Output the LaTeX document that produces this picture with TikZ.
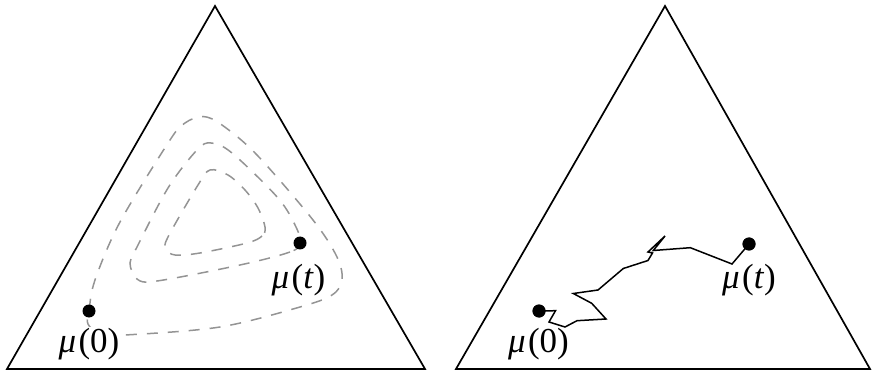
\documentclass[tikz,border=0pt]{standalone}
\usepackage{fontspec}
\setmainfont{Liberation Serif}
\begin{document}
\begin{tikzpicture}[x=0.5pt,y=-0.5pt,
  simplex/.style={draw=black,line width=0.85pt,line join=miter},
  orbit/.style={draw=black!42,line width=0.75pt,dash pattern=on 5.5pt off 5pt},
  walk/.style={draw=black,line width=0.75pt},
  dot/.style={circle,fill=black,inner sep=0pt,minimum size=6.5pt},
  lbl/.style={font=\fontsize{17.5}{20}\selectfont,inner sep=0.5pt}]
\useasboundingbox (0,0) rectangle (876,373);
% left simplex
\coordinate (LA) at (7,369);
\coordinate (LB) at (425,369);
\coordinate (LC) at (215,6);
\draw[simplex] (LA) -- (LB) -- (LC) -- cycle;
% outer orbit
\draw[orbit] plot[smooth cycle,tension=0.55] coordinates {
 (89,311) (88,324) (100,334) (125,335) (220,327) (300,307) (332,295) (342,280)
 (337,257) (313,220) (257,155) (222,125) (203,116.5) (185,123) (170,140)
 (120,222) (95,280)};
% middle orbit
\draw[orbit] plot[smooth cycle,tension=0.55] coordinates {
 (300,243) (290,252) (240,265) (157,281) (137,279) (130,263) (137,247)
 (168,188) (197,150) (211,143) (232,153) (278,198) (296,227)};
% inner orbit
\draw[orbit] plot[smooth cycle,tension=0.55] coordinates {
 (265,227) (262,236) (247,243) (200,253) (175,255) (166,249) (168,237)
 (198,185) (210,170) (228,175) (245,190) (258,208)};
\node[dot] (l0) at (89,311) {};
\node[dot] (lt) at (300,243) {};
\node[lbl,fill=white] (l0lab) at (89,344) {\itshape μ\kern1.2pt\upshape(0)};
\node[lbl] (ltlab) at (298.5,280) {\itshape μ\kern1.2pt\upshape(\itshape t\/\upshape)};
% right simplex
\coordinate (RA) at (456,369);
\coordinate (RB) at (870,369);
\coordinate (RC) at (665,6);
\draw[simplex] (RA) -- (RB) -- (RC) -- cycle;
\node[dot] (r0) at (539,311) {};
\node[dot] (rt) at (749,244) {};
\draw[walk,line join=miter] (r0.center) -- (555.5,310.7) -- (549,322) -- (565,327) -- (577,320.7)
 -- (606,319) -- (591.7,303.3) -- (573.3,293.5) -- (598,290) -- (623.3,268.5)
 -- (648,260.5) -- (652.5,253) -- (648,252) -- (665,236) -- (653.3,250.5)
 -- (690.3,247.7) -- (732,264) -- (rt.center);
\node[dot] at (r0) {};
\node[dot] at (rt) {};
\node[lbl] (r0lab) at (538.5,344) {\itshape μ\kern1.2pt\upshape(0)};
\node[lbl] (rtlab) at (749,280) {\itshape μ\kern1.2pt\upshape(\itshape t\/\upshape)};
\end{tikzpicture}
\end{document}
